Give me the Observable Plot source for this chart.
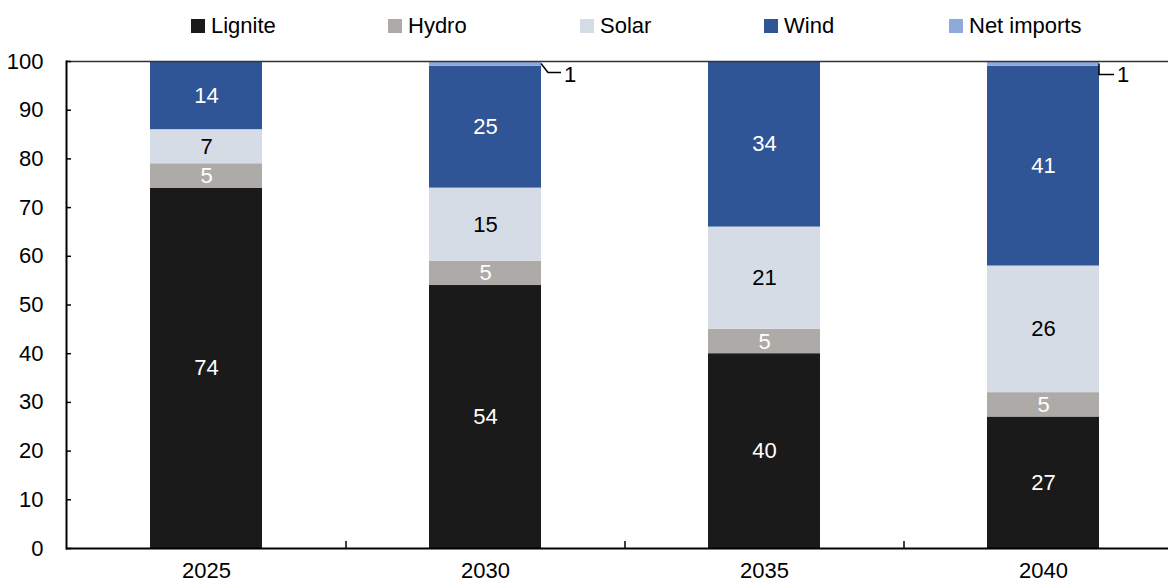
<!DOCTYPE html>
<html><head><meta charset="utf-8">
<script src="https://cdn.jsdelivr.net/npm/d3@7"></script>
<script src="https://cdn.jsdelivr.net/npm/@observablehq/plot@0.6"></script>
<style>
body{margin:0;background:#fff;font-family:"Liberation Sans",Arial,sans-serif;}
#legend{position:relative;height:50px;width:1168px;font-size:22px;color:#000}
.item{position:absolute;top:1px;height:50px;display:flex;align-items:center;white-space:nowrap}
.sw{width:14px;height:14px;margin-right:6px}
</style></head><body>
<div id="legend"></div><div id="chart"></div>
<script>
// ---- data ----
const years = ["2025", "2030", "2035", "2040"];
const sources = ["Lignite", "Hydro", "Solar", "Wind", "Net imports"];
const lignite = [74, 54, 40, 27];
const hydro = [5, 5, 5, 5];
const solar = [7, 15, 21, 26];
const wind = [14, 25, 34, 41];
const netImports = [0, 1, 0, 1];
const yTicks = [0, 10, 20, 30, 40, 50, 60, 70, 80, 90, 100];

// ---- styles ----
const colors = ["#1a1a1a", "#aeaaa8", "#d6dce5", "#2f5597", "#8eaadc"];
const legendLeft = [191, 388, 580, 764, 949];
const whiteLabel = new Set(["Lignite", "Hydro", "Wind"]);
const blackLabel = new Set(["Solar"]);
const FONT = '"Liberation Sans", Arial, sans-serif';
const FS = 22;

const series = [lignite, hydro, solar, wind, netImports];
const rows = [];
sources.forEach((s, si) => years.forEach((y, yi) => rows.push({year: y, source: s, value: series[si][yi]})));
const totals = years.map((y, yi) => series.reduce((a, arr) => a + arr[yi], 0));
const netRows = rows.filter(d => d.source === "Net imports" && d.value > 0);

// legend
const lg = document.getElementById("legend");
sources.forEach((s, i) => {
  const it = document.createElement("div");
  it.className = "item";
  it.style.left = legendLeft[i] + "px";
  it.innerHTML = `<span class="sw" style="background:${colors[i]}"></span><span>${s}</span>`;
  lg.appendChild(it);
});

const xRange = [66, 1182];
const pInner = 0.6, pOuter = 0.3;
const step = (xRange[1] - xRange[0]) / (years.length - pInner + 2 * pOuter);

// leader geometry for "1" labels (pixel offsets from bar's top right)
const leaderShapes = [
  {pts: [[0, 0], [7, 9], [20, 9]], tx: 29, ty: 11},
  {pts: [[0, 0], [0, 11], [15, 11]], tx: 24, ty: 11}
];

const leaders = (index, scales) => {
  const g = d3.create("svg:g");
  netRows.forEach((d, i) => {
    const sh = leaderShapes[i % leaderShapes.length];
    const x0 = scales.x(d.year) + scales.x.bandwidth();
    const yi = years.indexOf(d.year);
    const y0 = scales.y(totals[yi] - d.value / 2);
    g.append("path")
      .attr("d", "M" + sh.pts.map(p => [x0 + p[0], y0 + p[1]].join(",")).join("L"))
      .attr("fill", "none").attr("stroke", "#000").attr("stroke-width", 1.5);
    g.append("text")
      .attr("x", x0 + sh.tx).attr("y", y0 + sh.ty)
      .attr("dy", "0.35em")
      .attr("font-size", FS).attr("font-family", FONT).attr("fill", "#000")
      .text(String(d.value));
  });
  return g.node();
};

const chart = Plot.plot({
  width: 1168, height: 533,
  marginLeft: 66, marginRight: 0, marginTop: 11, marginBottom: 35,
  style: {fontFamily: FONT, fontSize: FS + "px", color: "#000", background: "#fff", overflow: "visible"},
  x: {domain: years, range: xRange, paddingInner: pInner, paddingOuter: pOuter, axis: null, label: null},
  y: {domain: [0, 100], axis: null, label: null},
  color: {domain: sources, range: colors},
  marks: [
    Plot.barY(rows, {x: "year", y: "value", z: "source", fill: "source"}),
    Plot.text(rows, Plot.stackY({x: "year", y: "value", z: "source",
      text: d => whiteLabel.has(d.source) && d.value > 0 ? String(d.value) : null,
      fill: "#fff", fontSize: FS})),
    Plot.text(rows, Plot.stackY({x: "year", y: "value", z: "source",
      text: d => blackLabel.has(d.source) && d.value > 0 ? String(d.value) : null,
      fill: "#000", fontSize: FS})),
    Plot.ruleY([100], {stroke: "#333", strokeWidth: 1.5}),
    Plot.ruleY([0], {stroke: "#000", strokeWidth: 2}),
    Plot.frame({anchor: "left", stroke: "#000", strokeWidth: 2}),
    Plot.axisY(yTicks, {anchor: "left", tickSize: 0, tickPadding: 23, fontSize: FS}),
    Plot.axisY(yTicks, {anchor: "left", tickSize: 5, dx: 5, tickFormat: () => "", strokeWidth: 1.5}),
    Plot.axisX(years, {anchor: "bottom", tickSize: 0, tickPadding: 14, fontSize: FS}),
    Plot.axisX(years.slice(0, -1), {anchor: "bottom", tickSize: 7, dy: -7, dx: step / 2, tickFormat: () => "", strokeWidth: 1.5}),
    leaders
  ]
});
document.getElementById("chart").appendChild(chart);
</script>
</body></html>
